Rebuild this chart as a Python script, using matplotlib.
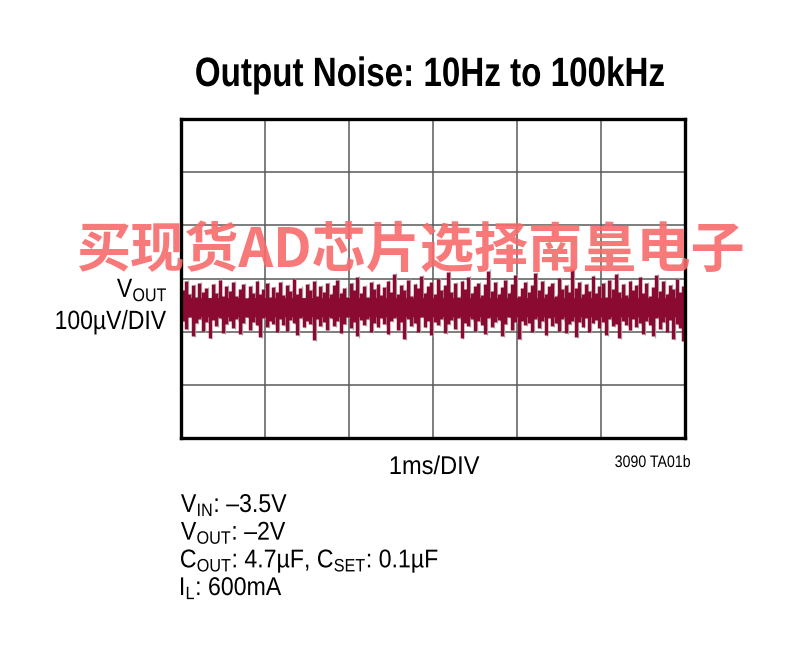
import numpy as np
import matplotlib
matplotlib.use("Agg")
import matplotlib.pyplot as plt
from matplotlib.font_manager import FontProperties
from matplotlib.textpath import TextPath
from matplotlib.patches import PathPatch
from matplotlib.transforms import Affine2D

plt.rcParams['font.family'] = ['Liberation Sans', 'DejaVu Sans']
plt.rcParams['mathtext.fontset'] = 'custom'
plt.rcParams['mathtext.rm'] = 'Liberation Sans'
plt.rcParams['mathtext.it'] = 'Liberation Sans:italic'
plt.rcParams['mathtext.bf'] = 'Liberation Sans:bold'

# scope trace, in divisions (100uV/DIV)
upper_env = [
    -0.22, -0.05, -0.30, -0.12, -0.34, -0.08, -0.26, -0.18, -0.36, -0.10, -0.28, -0.02, -0.32, -0.15, -0.24,
    -0.06, -0.33, -0.20, -0.11, -0.37, -0.14, -0.27, -0.04, -0.30, -0.19, -0.09, -0.35, -0.16, -0.25, -0.07,
    -0.31, -0.13, -0.23, -0.01, -0.29, -0.17, -0.36, -0.10, -0.21, -0.05, -0.33, -0.15, -0.26, -0.08, -0.30,
    -0.12, -0.03, -0.27, -0.18, -0.34, -0.09, -0.22, 0.02, -0.28, -0.14, -0.35, -0.06, -0.20, -0.11, -0.31,
    -0.16, -0.04, -0.25, 0.08, -0.30, -0.13, -0.21, -0.02, -0.33, -0.10, -0.18, 0.05, -0.27, -0.15, -0.07,
    -0.29, -0.01, -0.22, -0.12, 0.12, -0.26, -0.09, -0.34, -0.05, -0.19, 0.03, -0.28, -0.14, -0.08, -0.31,
    -0.11, 0.15, -0.24, -0.06, -0.30, -0.16, -0.02, -0.27, -0.10, 0.06, -0.33, -0.18, -0.07, -0.25, -0.13,
    0.10, -0.21, -0.04, -0.29, -0.15, -0.09, -0.32, 0.01, -0.20, -0.12, -0.26, 0.18, -0.17, -0.06, -0.30,
    -0.10, -0.23, 0.04, -0.28, -0.14, -0.08, -0.34, -0.03, -0.19, 0.09, -0.25, -0.11, -0.31, -0.05, -0.22,
    -0.13, 0.02, -0.27, -0.09, -0.33, -0.16, 0.07, -0.24, -0.04, -0.29, -0.12, -0.20, 0.00, -0.26, -0.15,
]
lower_env = [
    -0.80, -0.95, -0.72, -1.08, -0.84, -0.76, -0.98, -0.82, -1.12, -0.78, -0.90, -0.74, -1.02, -0.86, -0.79,
    -0.93, -0.77, -1.05, -0.83, -0.73, -0.97, -0.81, -0.88, -1.10, -0.75, -0.91, -0.79, -0.85, -1.00, -0.76,
    -0.87, -0.99, -0.78, -0.84, -1.06, -0.74, -0.92, -0.80, -0.86, -1.15, -0.77, -0.89, -0.82, -0.96, -0.75,
    -0.90, -0.79, -1.03, -0.85, -0.73, -0.94, -0.81, -1.09, -0.78, -0.88, -0.76, -1.01, -0.83, -0.91, -0.74,
    -0.86, -1.04, -0.80, -0.75, -0.97, -0.82, -1.13, -0.77, -0.89, -0.84, -1.00, -0.73, -0.92, -0.79, -1.07,
    -0.81, -0.88, -0.76, -1.02, -0.85, -0.78, -0.95, -0.74, -1.11, -0.83, -0.90, -0.77, -0.99, -0.80, -0.87,
    -1.05, -0.75, -0.91, -0.82, -0.78, -1.08, -0.86, -0.73, -0.96, -0.81, -1.14, -0.79, -0.88, -0.84, -1.01,
    -0.76, -0.93, -0.80, -1.06, -0.74, -0.89, -0.83, -0.98, -0.77, -1.03, -0.85, -0.79, -1.10, -0.81, -0.92,
    -0.75, -1.00, -0.84, -0.78, -0.94, -0.82, -1.07, -0.76, -0.90, -0.86, -1.12, -0.80, -0.87, -0.97, -0.77,
    -0.91, -0.83, -1.04, -0.79, -0.88, -1.09, -0.75, -0.95, -0.82, -1.01, -0.78, -1.13, -0.86, -0.93, -1.18,
]

n_div_x = 6
n_div_y = 6

title = 'Output Noise: 10Hz to 100kHz'
y_label = ['V$_{\\mathrm{OUT}}$', '100µV/DIV']
x_label = '1ms/DIV'
fig_code = '3090 TA01b'
notes = ['V$_{\\mathrm{IN}}$: –3.5V',
         'V$_{\\mathrm{OUT}}$: –2V',
         'C$_{\\mathrm{OUT}}$: 4.7µF, C$_{\\mathrm{SET}}$: 0.1µF',
         'I$_{\\mathrm{L}}$: 600mA']
watermark = '买现货AD芯片选择南皇电子'

W, H = 807, 647
fig = plt.figure(figsize=(W / 100, H / 100), dpi=100)
fig.patch.set_facecolor('white')


def narrow_text(x, y, s, size, sx=0.85, ha='left', weight='normal', color='black'):
    # condensed look: draw the glyph outlines squeezed horizontally (x, y = pixels, y from top)
    fp = FontProperties(family='Liberation Sans', weight=weight)
    tp = TextPath((0, 0), s, size=size * 100 / 72, prop=fp)
    ext = tp.get_extents()
    if ha == 'center':
        dx = -(ext.x0 + ext.x1) / 2 * sx
    elif ha == 'right':
        dx = -ext.x1 * sx
    else:
        dx = -ext.x0 * sx
    tr = Affine2D().scale(sx, 1).translate(x + dx, H - y)
    fig.add_artist(PathPatch(tp, transform=tr, fc=color, ec='none', lw=0))


ax = fig.add_axes([181 / W, 1 - 438 / H, 504 / W, 319 / H])
ax.set_xlim(0, n_div_x)
ax.set_ylim(-n_div_y / 2, n_div_y / 2)

t = np.linspace(0.02, n_div_x - 0.02, len(upper_env))
up = np.array(upper_env)
lo = np.array(lower_env)

# persistence shadow, then the trace itself
ax.vlines(t + 0.022, lo - 0.02, up + 0.02, color='#b4b4b4', lw=1.0, zorder=2)
ax.fill_between(t, np.maximum(lo, -0.72), np.minimum(up, -0.36), color='#8b0a32', lw=0, zorder=3)
ax.vlines(t, lo, up, color='#8b0a32', lw=2.5, zorder=3)

ax.set_xticks(np.arange(0, n_div_x + 1))
ax.set_yticks(np.arange(-n_div_y / 2, n_div_y / 2 + 1))
ax.grid(True, color='#5a5a5a', lw=1.1)
ax.tick_params(length=0, labelbottom=False, labelleft=False)
for s in ax.spines.values():
    s.set_linewidth(2.4)
    s.set_color('black')
    s.set_zorder(5)

narrow_text(430, 86, title, 29.5, sx=0.81, ha='center', weight='bold')

narrow_text(166, 297, y_label[0], 19, sx=0.87, ha='right')
narrow_text(166, 329, y_label[1], 19, sx=0.87, ha='right')

narrow_text(435, 474, x_label, 18.5, sx=0.92, ha='center')
narrow_text(690, 467, fig_code, 12, sx=0.85, ha='right')

for i, s in enumerate(notes):
    narrow_text(181, 512 + 27.7 * i, s, 18.5, sx=0.9)

fig.text(410 / W, 1 - 251 / H, watermark, ha='center', va='center',
         fontsize=39, fontweight='bold', color='#f86a6a', alpha=0.9,
         family=['Noto Sans CJK SC', 'DejaVu Sans'], zorder=10)

fig.savefig('out.png', dpi=100)
